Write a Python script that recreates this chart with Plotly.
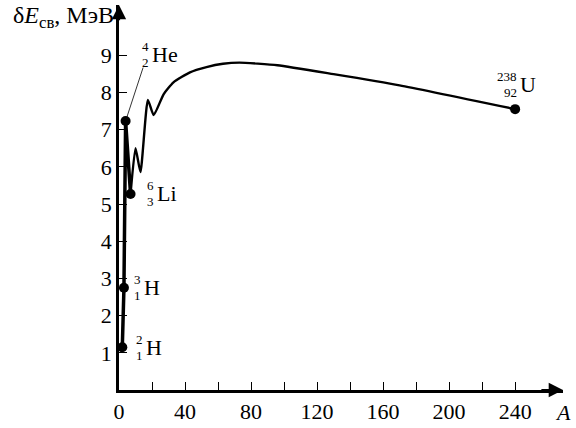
import plotly.graph_objects as go

# binding energy per nucleon vs mass number
light_A = [2, 3, 4, 7]
light_E = [1.15, 2.75, 7.23, 5.27]

curve_A = [7, 10, 13, 17.5, 21, 27, 33, 43, 53, 63, 73, 96, 130, 170, 240]
curve_E = [5.27, 6.5, 5.86, 7.8, 7.39, 7.95, 8.27, 8.54, 8.68, 8.77, 8.8, 8.73, 8.49, 8.19, 7.55]

iso_sym = ["H", "H", "He", "Li", "U"]
iso_mass = ["2", "3", "4", "6", "238"]
iso_z = ["1", "1", "2", "3", "92"]
iso_A = [2, 3, 4, 7, 240]
iso_E = [1.15, 2.75, 7.23, 5.27, 7.55]

x_ticks = list(range(0, 260, 20))
x_labels = [str(v) if v % 40 == 0 else "" for v in x_ticks]
y_ticks = list(range(1, 10))
y_labels = [str(v) for v in y_ticks]

FONT = "Liberation Serif, DejaVu Serif, serif"

fig = go.Figure()
fig.add_trace(go.Scatter(x=light_A, y=light_E, mode="lines",
                         line=dict(color="black", width=3.5)))
fig.add_trace(go.Scatter(x=curve_A, y=curve_E, mode="lines",
                         line=dict(color="black", width=2.4, shape="spline", smoothing=0.5)))
fig.add_trace(go.Scatter(x=iso_A, y=iso_E, mode="markers",
                         marker=dict(color="black", size=10)))

# label offsets in pixels (dx right, dy up) from each dot
offs = [(22, 0), (18, 0), (24, 67), (24, 0), (3, 25)]
ann = []
for s, m, z, a, e, (dx, dy) in zip(iso_sym, iso_mass, iso_z, iso_A, iso_E, offs):
    ann.append(dict(x=a, y=e, text=s, showarrow=False, xanchor="left", yanchor="middle",
                    xshift=dx, yshift=dy, font=dict(size=22, color="black")))
    ann.append(dict(x=a, y=e, text=m, showarrow=False, xanchor="right", yanchor="middle",
                    xshift=dx + 1, yshift=dy + 8, font=dict(size=13, color="black")))
    ann.append(dict(x=a, y=e, text=z, showarrow=False, xanchor="right", yanchor="middle",
                    xshift=dx + 1, yshift=dy - 8, font=dict(size=13, color="black")))

# leader line to the He label
ann.append(dict(x=iso_A[2], y=iso_E[2], ax=18, ay=-55, text="", showarrow=True,
                arrowhead=0, arrowwidth=0.8, arrowcolor="black", standoff=0))

# axis arrows
ann.append(dict(x=269, y=0, ax=255, ay=0, axref="x", ayref="y", text="", showarrow=True,
                arrowhead=2, arrowsize=1.3, arrowwidth=2.2, arrowcolor="black"))
ann.append(dict(x=0, y=10.35, ax=0, ay=9.9, axref="x", ayref="y", text="", showarrow=True,
                arrowhead=2, arrowsize=1.3, arrowwidth=2.2, arrowcolor="black"))

# axis titles
ann.append(dict(x=0, y=10.03, text="δ<i>E</i><sub>св</sub>, МэВ", showarrow=False,
                xanchor="right", yanchor="middle", xshift=-3, font=dict(size=24)))
ann.append(dict(x=269, y=0, text="<i>A</i>", showarrow=False, xanchor="center",
                yanchor="middle", yshift=-22, font=dict(size=22)))

fig.update_layout(
    width=576, height=428, autosize=False,
    margin=dict(l=119, r=13, t=5, b=38),
    paper_bgcolor="white", plot_bgcolor="white",
    showlegend=False,
    font=dict(family=FONT, size=22, color="black"),
    annotations=ann,
)
fig.update_xaxes(range=[0, 269], tickvals=x_ticks, ticktext=x_labels,
                 ticks="inside", ticklen=8, tickwidth=1.2, tickcolor="black",
                 showline=True, linewidth=2.5, linecolor="black",
                 showgrid=False, zeroline=False)
fig.update_yaxes(range=[0, 10.35], tickvals=y_ticks, ticktext=y_labels,
                 ticks="inside", ticklen=8, tickwidth=1.2, tickcolor="black",
                 showline=True, linewidth=2.5, linecolor="black",
                 showgrid=False, zeroline=False)

fig.write_html("out.html", config={"displayModeBar": False},
               post_script="document.body.style.margin='0';")
